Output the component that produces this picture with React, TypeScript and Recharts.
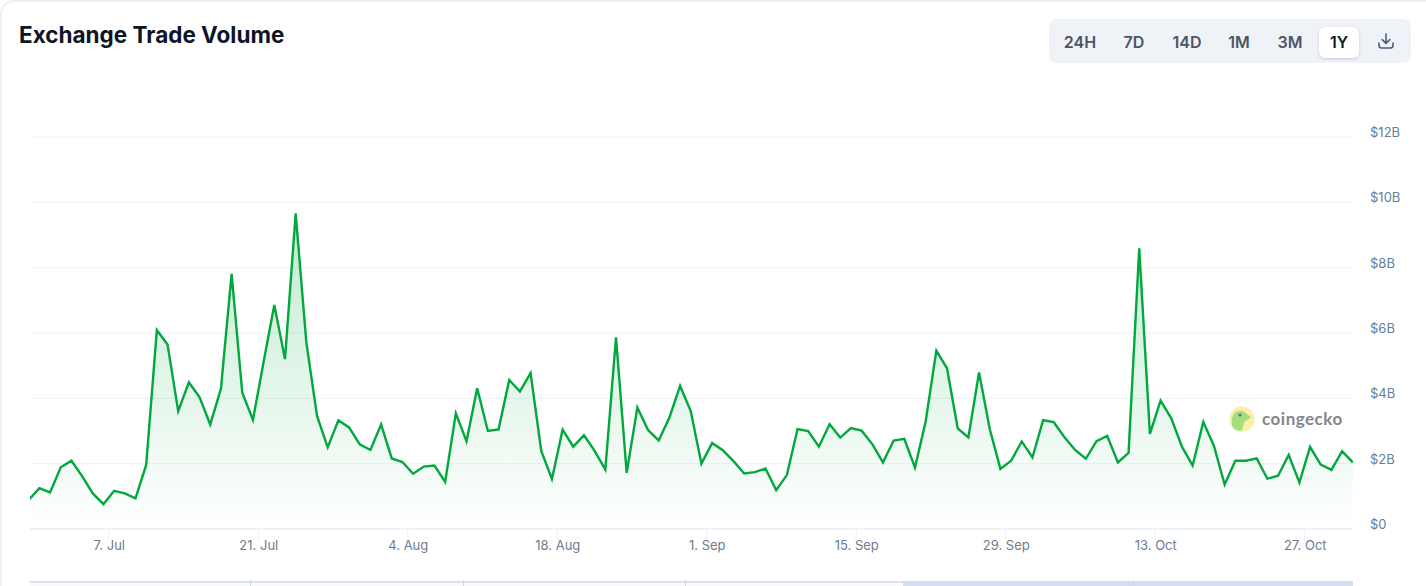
// App.tsx
import { AreaChart, Area, XAxis, YAxis, CartesianGrid } from 'recharts';

// day numbers count from 7 Jul; each point sits half a day before its date tick
const firstDay = -7.5;
const volumes = [
  0.89, 1.25, 1.12, 1.89, 2.09, 1.62, 1.09, 0.76, 1.17, 1.09, 0.94, 1.96, 6.09, 5.65, 3.61, 4.49,
  4.03, 3.2, 4.29, 7.81, 4.17, 3.34, 5.12, 6.86, 5.2, 9.66, 5.71, 3.46, 2.5, 3.33, 3.11, 2.59,
  2.42, 3.2, 2.16, 2.05, 1.69, 1.91, 1.94, 1.44, 3.54, 2.69, 4.31, 3.0, 3.05, 4.56, 4.21, 4.77,
  2.39, 1.53, 3.04, 2.52, 2.87, 2.39, 1.82, 5.87, 1.72, 3.72, 3.03, 2.71, 3.41, 4.38, 3.61, 2.0,
  2.63, 2.41, 2.08, 1.7, 1.74, 1.85, 1.19, 1.65, 3.06, 3.0, 2.52, 3.21, 2.8, 3.09, 3.01, 2.6,
  2.04, 2.71, 2.76, 1.88, 3.29, 5.46, 4.92, 3.08, 2.8, 4.79, 3.06, 1.84, 2.09, 2.68, 2.19, 3.33,
  3.27, 2.81, 2.42, 2.15, 2.69, 2.85, 2.04, 2.33, 8.59, 2.91, 3.93, 3.39, 2.52, 1.94, 3.28, 2.54,
  1.36, 2.09, 2.09, 2.16, 1.54, 1.63, 2.27, 1.42, 2.51, 1.97, 1.81, 2.38, 2.04,
];
const xTicks = [0, 14, 28, 42, 56, 70, 84, 98, 112];
const xLabels = ['7. Jul', '21. Jul', '4. Aug', '18. Aug', '1. Sep', '15. Sep', '29. Sep', '13. Oct', '27. Oct'];
const yTicks = [0, 2, 4, 6, 8, 10, 12];
const ranges = ['24H', '7D', '14D', '1M', '3M', '1Y'];
const rangeCenters = [1080, 1134, 1187, 1239, 1290, 1339];
const navigatorTicks = [250, 463, 685, 1133];

const data = volumes.map((volume, i) => ({ day: firstDay + i, volume }));

const FONT = 'Inter, "Noto Sans", sans-serif';
const GREEN = '#00a83e';

function XTick({ x, y, payload }: any) {
  const label = xLabels[xTicks.indexOf(payload.value)];
  return (
    <text x={x + 0.5} y={y + 8} textAnchor="middle" fontSize={13} fontFamily={FONT} fill="#6f7b8f">
      {label}
    </text>
  );
}

function YTick({ y, payload }: any) {
  return (
    <text x={1370} y={y} textAnchor="start" fontSize={13} fontFamily={FONT} fill="#64809c">
      {payload.value === 0 ? '$0' : `$${payload.value}B`}
    </text>
  );
}

function Watermark() {
  return (
    <div style={{ position: 'absolute', left: 1229, top: 406, width: 120, height: 27 }}>
      <svg width={26} height={26} style={{ position: 'absolute', left: 0, top: 0 }}>
        <circle cx={13} cy={13} r={12.5} fill="#f9efa6" />
        <path d="M4 22 C1 15 3 6 10 5 C14 4 17 8 22 11 C20 14 16 14 15 17 C14 20 14 23 12 25 C9 25 6 24 4 22 Z" fill="#a5de7c" />
        <circle cx={11} cy={9} r={1.6} fill="#6b7280" />
      </svg>
      <div style={{ position: 'absolute', left: 33, top: 2, fontSize: 17, fontWeight: 700, color: '#83868c', fontFamily: 'Lato, sans-serif', letterSpacing: 0.5 }}>
        coingecko
      </div>
    </div>
  );
}

function RangeButtons() {
  return (
    <>
      <div style={{ position: 'absolute', left: 1049, top: 19, width: 362, height: 44, background: '#eff2f7', borderRadius: 8 }} />
      <div style={{ position: 'absolute', left: 1319, top: 27, width: 40, height: 31, background: '#fff', borderRadius: 6, boxShadow: '0 1px 3px rgba(15,23,42,0.18)' }} />
      {ranges.map((r, i) => (
        <div
          key={r}
          style={{
            position: 'absolute',
            left: rangeCenters[i] - 30,
            width: 60,
            top: 32,
            textAlign: 'center',
            fontSize: 16,
            lineHeight: '20px',
            fontWeight: 600,
            fontFamily: FONT,
            color: r === '1Y' ? '#111827' : '#4b5565',
          }}
        >
          {r}
        </div>
      ))}
      <svg width={18} height={18} viewBox="0 0 18 18" style={{ position: 'absolute', left: 1377, top: 32 }}>
        <path d="M9 2 V11 M5.2 7.6 L9 11.4 L12.8 7.6 M2 11 V13.5 C2 15 3 16 4.5 16 H13.5 C15 16 16 15 16 13.5 V11" fill="none" stroke="#4b5f80" strokeWidth={1.6} strokeLinecap="round" strokeLinejoin="round" />
      </svg>
    </>
  );
}

function Navigator() {
  return (
    <>
      <div style={{ position: 'absolute', left: 30, top: 581, width: 1323, height: 5, background: '#f9fafc', borderTop: '2px solid #dde3ee', boxSizing: 'border-box' }} />
      <div style={{ position: 'absolute', left: 903, top: 581, width: 450, height: 5, background: '#d5deee' }} />
      {navigatorTicks.map((x) => (
        <div key={x} style={{ position: 'absolute', left: x, top: 580, width: 1, height: 6, background: '#d3d9e4' }} />
      ))}
    </>
  );
}

export default function App() {
  return (
    <div style={{ position: 'absolute', left: 0, top: 0, width: 1426, height: 586, overflow: 'hidden', background: '#fff' }}>
      <div style={{ position: 'absolute', left: 0, top: 0, width: 1440, height: 620, border: '2px solid #eff2f5', borderRadius: 14, boxSizing: 'border-box' }} />
      <div style={{ position: 'absolute', left: 19, top: 21, fontSize: 22.5, lineHeight: '28px', fontWeight: 700, fontFamily: FONT, color: '#0d1526' }}>
        Exchange Trade Volume
      </div>
      <RangeButtons />
      <div style={{ position: 'absolute', left: 0, top: 0 }}>
        <AreaChart width={1426} height={586} data={data} margin={{ top: 137, right: 0, bottom: 0, left: 30 }}>
          <defs>
            <linearGradient id="volumeFill" x1="0" y1="0" x2="0" y2="1">
              <stop offset="0%" stopColor={GREEN} stopOpacity={0.24} />
              <stop offset="100%" stopColor={GREEN} stopOpacity={0} />
            </linearGradient>
          </defs>
          <CartesianGrid horizontal vertical={false} stroke="#eff2f5" strokeWidth={1} />
          <XAxis
            dataKey="day"
            type="number"
            domain={[-7.38, 116.52]}
            allowDataOverflow
            ticks={xTicks}
            tick={<XTick />}
            height={57}
            stroke="#e9ecf2"
            tickSize={11}
            tickLine={{ stroke: '#eef0f4' }}
          />
          <YAxis
            orientation="right"
            domain={[0, 12]}
            ticks={yTicks}
            tick={<YTick />}
            width={73}
            axisLine={false}
            tickLine={false}
          />
          <Area
            type="linear"
            dataKey="volume"
            stroke={GREEN}
            strokeWidth={2.4}
            fill="url(#volumeFill)"
            fillOpacity={1}
            dot={false}
            activeDot={false}
            isAnimationActive={false}
          />
        </AreaChart>
      </div>
      <Watermark />
      <Navigator />
    </div>
  );
}
